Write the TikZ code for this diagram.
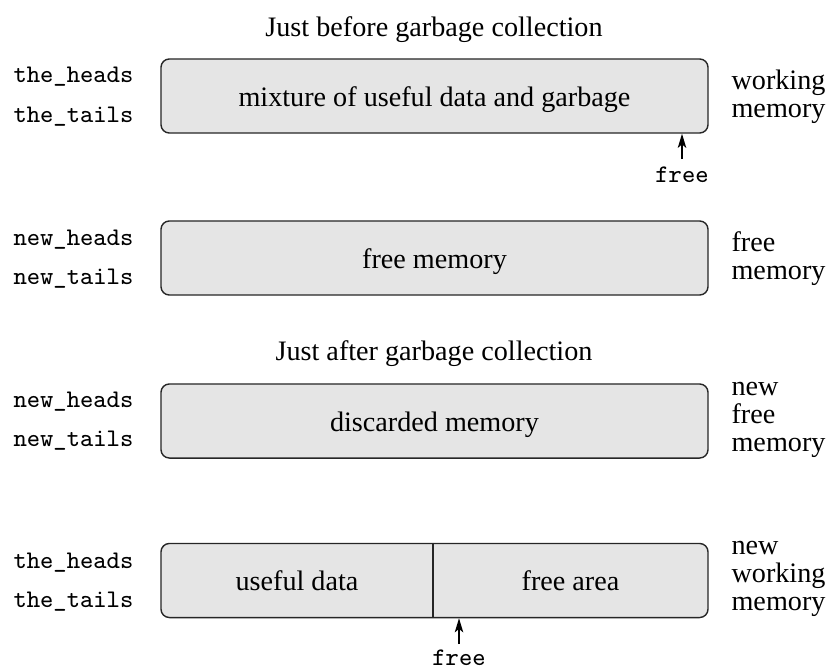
\documentclass[tikz,border=0pt]{standalone}
\usepackage{fontspec}
\setmainfont{Liberation Serif}
\usetikzlibrary{arrows.meta}
\begin{document}
\begin{tikzpicture}[x=0.355pt,y=-0.355pt,
  memblock/.style={draw=black!85, line width=0.5pt, fill=black!10, rounded corners=3pt,
    minimum width=194.2pt, minimum height=26.3pt, inner sep=0pt,
    text height=8.8pt, text depth=1.4pt, font=\fontsize{10}{12}\selectfont},
  ptrlbl/.style={anchor=base west, inner sep=0pt, font=\fontsize{9}{10}\selectfont\ttfamily},
  sidelbl/.style={anchor=west, inner sep=0pt, align=left, font=\fontsize{10}{10}\selectfont},
  title/.style={anchor=base, inner sep=0pt, font=\fontsize{10}{12}\selectfont},
  freelbl/.style={anchor=base, inner sep=0pt, font=\fontsize{9}{10}\selectfont\ttfamily},
  ptrarrow/.style={-{Stealth[length=5pt,width=3pt,inset=1.2pt]}, line width=0.55pt}
]
\useasboundingbox (0,0) rectangle (829,668);

% titles
\node[title] (t1) at (434,37) {Just before garbage collection};
\node[title] (t2) at (434,360) {Just after garbage collection};

% box 1
\node[memblock] (b1) at (434.5,96) {mixture of useful data and garbage};
\node[ptrlbl] (h1) at (13,83) {the\_heads};
\node[ptrlbl] (l1) at (13,123) {the\_tails};
\node[sidelbl] (s1) at (731,97) {working\\memory};
\node[freelbl] (f1) at (682,183) {free};
\coordinate (f1top) at (682,159);
\draw[ptrarrow] (f1top) -- (f1top |- b1.south);

% box 2
\node[memblock] (b2) at (434.5,258) {free memory};
\node[ptrlbl] (h2) at (13,245) {new\_heads};
\node[ptrlbl] (l2) at (13,284) {new\_tails};
\node[sidelbl] (s2) at (731,259) {free\\memory};

% box 3
\node[memblock] (b3) at (434.5,421) {discarded memory};
\node[ptrlbl] (h3) at (13,407) {new\_heads};
\node[ptrlbl] (l3) at (13,446) {new\_tails};
\node[sidelbl] (s3) at (731,420) {new\\free\\memory};

% box 4
\node[memblock] (b4) at (434.5,580.5) {};
\coordinate (div) at (433,580);
\draw[line width=0.5pt, black!85] (div |- b4.north) -- (div |- b4.south);
\node[memblock, draw=none, fill=none, minimum width=0pt, minimum height=0pt] (u4) at (297,580.5) {useful data};
\node[memblock, draw=none, fill=none, minimum width=0pt, minimum height=0pt] (a4) at (570.5,580.5) {free area};
\node[ptrlbl] (h4) at (13,568) {the\_heads};
\node[ptrlbl] (l4) at (13,607) {the\_tails};
\node[sidelbl] (s4) at (731,579) {new\\working\\memory};
\node[freelbl] (f4) at (459,665) {free};
\coordinate (f4top) at (459,644);
\draw[ptrarrow] (f4top) -- (f4top |- b4.south);
\end{tikzpicture}
\end{document}
